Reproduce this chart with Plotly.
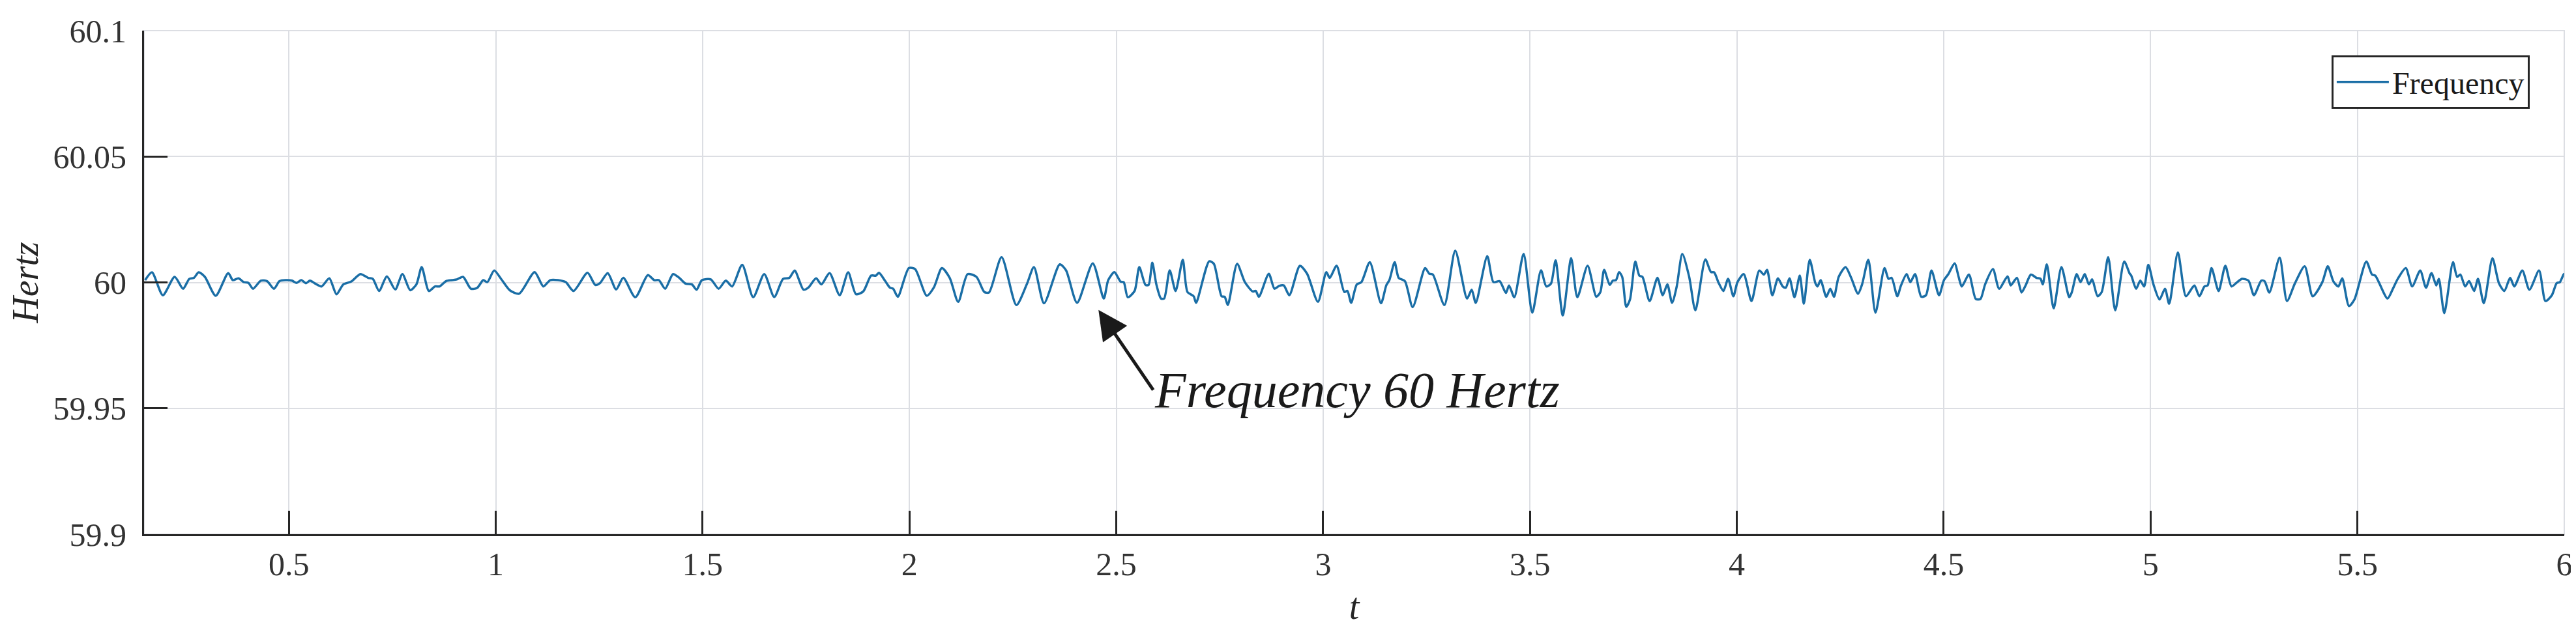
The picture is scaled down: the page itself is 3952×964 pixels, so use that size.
import plotly.graph_objects as go

# Fréquence relevée (t en s, f en Hz) — extrema, par tronçons
SEG_1 = [
    (0.1526, 60.0009), (0.1691, 60.0040), (0.1954, 59.9949), (0.2240, 60.0022), (0.2443, 59.9975),
    (0.2594, 60.0014), (0.2706, 60.0018), (0.2819, 60.0040), (0.2970, 60.0022), (0.3233, 59.9947),
    (0.3534, 60.0037), (0.3646, 60.0009), (0.3782, 60.0016), (0.3910, 60.0001), (0.4022, 59.9998),
    (0.4135, 59.9975), (0.4323, 60.0007), (0.4474, 60.0005), (0.4639, 59.9975), (0.4774, 60.0005),
    (0.4925, 60.0009), (0.5075, 60.0007), (0.5188, 59.9998), (0.5301, 60.0009), (0.5414, 59.9997),
    (0.5511, 60.0007), (0.5639, 59.9995), (0.5790, 59.9984), (0.5978, 60.0016), (0.6151, 59.9953),
    (0.6316, 59.9992), (0.6504, 60.0003), (0.6730, 60.0033), (0.6918, 60.0018), (0.7030, 60.0014),
    (0.7181, 59.9966), (0.7369, 60.0024), (0.7572, 59.9972), (0.7745, 60.0033), (0.7933, 59.9969),
    (0.8083, 59.9992), (0.8211, 60.0061), (0.8384, 59.9966), (0.8534, 59.9984), (0.8647, 59.9984),
    (0.8798, 60.0005), (0.8948, 60.0009), (0.9061, 60.0012), (0.9211, 60.0022), (0.9399, 59.9975),
    (0.9550, 59.9978), (0.9700, 60.0009), (0.9798, 60.0001), (0.9963, 60.0047), (1.0151, 60.0009),
    (1.0339, 59.9969), (1.0565, 59.9955), (1.0941, 60.0041), (1.1151, 59.9984), (1.1317, 60.0009),
    (1.1505, 60.0009), (1.1693, 60.0001), (1.1881, 59.9966), (1.2219, 60.0038), (1.2407, 59.9990),
    (1.2519, 59.9997), (1.2708, 60.0037), (1.2911, 59.9972), (1.3084, 60.0018),
]
SEG_2 = [
    (1.3374, 59.9941), (1.3678, 60.0029), (1.3830, 60.0009), (1.3944, 60.0009), (1.4096, 59.9975),
    (1.4286, 60.0033), (1.4438, 60.0018), (1.4590, 59.9995), (1.4742, 59.9992), (1.4856, 59.9971),
    (1.4985, 60.0009), (1.5198, 60.0012), (1.5388, 59.9975), (1.5562, 60.0007), (1.5714, 59.9984),
    (1.5958, 60.0070), (1.6224, 59.9941), (1.6490, 60.0033), (1.6733, 59.9942), (1.6946, 60.0014),
    (1.7098, 60.0018), (1.7227, 60.0047), (1.7439, 59.9971), (1.7554, 59.9979), (1.7744, 60.0016),
    (1.7873, 59.9992), (1.8070, 60.0037), (1.8314, 59.9949), (1.8519, 60.0040), (1.8709, 59.9953),
    (1.8884, 59.9964), (1.9074, 60.0027), (1.9188, 60.0027), (1.9264, 60.0038), (1.9416, 60.0005),
    (1.9530, 59.9979), (1.9606, 59.9975), (1.9720, 59.9943), (1.9986, 60.0057), (2.0138, 60.0053),
    (2.0419, 59.9947), (2.0594, 59.9981), (2.0784, 60.0057), (2.0974, 60.0018), (2.1179, 59.9923),
    (2.1407, 60.0033), (2.1620, 60.0022), (2.1810, 59.9962), (2.1924, 59.9960), (2.2228, 60.0100),
    (2.2585, 59.9910), (2.2836, 59.9992), (2.3010, 60.0061), (2.3254, 59.9917), (2.3634, 60.0072),
    (2.3786, 60.0048), (2.4052, 59.9919), (2.4432, 60.0076), (2.4698, 59.9936),
]
SEG_3 = [
    (2.4805, 60.0009), (2.4955, 60.0041), (2.5105, 60.0003), (2.5180, 60.0001), (2.5278, 59.9941),
    (2.5443, 59.9966), (2.5556, 60.0061), (2.5706, 59.9990), (2.5781, 59.9990), (2.5871, 60.0078),
    (2.5969, 59.9992), (2.6081, 59.9936), (2.6157, 59.9936), (2.6292, 60.0048), (2.6434, 59.9966),
    (2.6607, 60.0090), (2.6720, 59.9962), (2.6870, 59.9945), (2.6930, 59.9919), (2.7245, 60.0084),
    (2.7358, 60.0074), (2.7546, 59.9945), (2.7621, 59.9943), (2.7696, 59.9910), (2.7921, 60.0074),
    (2.8109, 60.0001), (2.8297, 59.9964), (2.8372, 59.9966), (2.8447, 59.9943), (2.8687, 60.0034),
    (2.8823, 59.9975), (2.8935, 59.9986), (2.9048, 59.9988), (2.9183, 59.9949), (2.9438, 60.0066),
    (2.9611, 60.0035), (2.9874, 59.9923), (3.0077, 60.0041), (3.0159, 60.0018), (3.0325, 60.0066),
    (3.0512, 59.9962), (3.0587, 59.9966), (3.0678, 59.9919), (3.0813, 59.9992), (3.0925, 60.0001),
    (3.1128, 60.0080), (3.1399, 59.9917), (3.1526, 59.9988), (3.1601, 60.0009), (3.1729, 60.0080),
    (3.1826, 60.0018), (3.1977, 60.0005), (3.2165, 59.9902), (3.2465, 60.0057), (3.2563, 60.0035),
    (3.2653, 60.0031), (3.2931, 59.9910), (3.3193, 60.0126), (3.3479, 59.9936), (3.3591, 59.9971),
    (3.3689, 59.9919), (3.3967, 60.0104), (3.4117, 60.0001), (3.4267, 60.0005), (3.4418, 59.9958),
    (3.4493, 59.9988), (3.4620, 59.9941), (3.4846, 60.0113), (3.5056, 59.9880), (3.5266, 60.0048),
    (3.5394, 59.9984), (3.5506, 59.9995), (3.5619, 60.0087), (3.5792, 59.9869), (3.5995, 60.0096),
    (3.6145, 59.9941), (3.6393, 60.0066),
]
SEG_4 = [
    (3.6604, 59.9943), (3.6702, 59.9962), (3.6792, 60.0050), (3.6928, 59.9990), (3.7003, 60.0007),
    (3.7078, 60.0009), (3.7154, 60.0041), (3.7229, 60.0022), (3.7327, 59.9903), (3.7417, 59.9932),
    (3.7545, 60.0083), (3.7643, 60.0027), (3.7718, 60.0022), (3.7892, 59.9926), (3.8080, 60.0018),
    (3.8208, 59.9949), (3.8321, 59.9992), (3.8434, 59.9919), (3.8547, 59.9984), (3.8682, 60.0113),
    (3.8848, 60.0022), (3.8998, 59.9889), (3.9239, 60.0091), (3.9375, 60.0041), (3.9450, 60.0040),
    (3.9563, 59.9997), (3.9676, 59.9966), (3.9789, 60.0014), (3.9917, 59.9945), (4.0015, 60.0001),
    (4.0166, 60.0033), (4.0354, 59.9926), (4.0542, 60.0047), (4.0655, 60.0031), (4.0730, 60.0050),
    (4.0858, 59.9949), (4.0994, 60.0016), (4.1107, 59.9984), (4.1182, 59.9979), (4.1273, 60.0016),
    (4.1393, 59.9941), (4.1521, 60.0027), (4.1619, 59.9915), (4.1762, 60.0090), (4.1898, 59.9997),
    (4.1950, 59.9984), (4.2026, 60.0009), (4.2161, 59.9943), (4.2259, 59.9975), (4.2349, 59.9943),
    (4.2462, 60.0022), (4.2628, 60.0061), (4.2764, 60.0018), (4.2929, 59.9955), (4.3027, 59.9992),
    (4.3178, 60.0090), (4.3351, 59.9880), (4.3569, 60.0057), (4.3667, 60.0014), (4.3742, 60.0018),
    (4.3878, 59.9945), (4.3968, 59.9988), (4.4104, 60.0033), (4.4194, 60.0001), (4.4307, 60.0033),
    (4.4458, 59.9943), (4.4571, 59.9949), (4.4706, 60.0047), (4.4887, 59.9949), (4.5007, 60.0009),
    (4.5113, 60.0033), (4.5263, 60.0076), (4.5361, 60.0022), (4.5437, 59.9984), (4.5610, 60.0031),
    (4.5776, 59.9934), (4.5888, 59.9934), (4.6001, 59.9992), (4.6190, 60.0053), (4.6340, 59.9975),
    (4.6544, 60.0024), (4.6619, 59.9988), (4.6770, 60.0018), (4.6882, 59.9960), (4.6980, 59.9988),
    (4.7108, 60.0031), (4.7244, 60.0018), (4.7342, 60.0014), (4.7394, 59.9992), (4.7492, 60.0072),
    (4.7658, 59.9897), (4.7846, 60.0061), (4.8035, 59.9941),
]
SEG_5 = [
    (4.8099, 59.9962), (4.8215, 60.0033), (4.8308, 60.0001), (4.8409, 60.0033), (4.8510, 59.9992),
    (4.8588, 60.0012), (4.8720, 59.9945), (4.8820, 59.9962), (4.8976, 60.0100), (4.9146, 59.9889),
    (4.9364, 60.0083), (4.9496, 60.0035), (4.9534, 60.0027), (4.9651, 59.9975), (4.9752, 60.0007),
    (4.9845, 59.9984), (4.9946, 60.0070), (5.0078, 59.9988), (5.0217, 59.9932), (5.0349, 59.9975),
    (5.0450, 59.9915), (5.0660, 60.0119), (5.0854, 59.9945), (5.1009, 59.9979), (5.1063, 59.9988),
    (5.1180, 59.9945), (5.1304, 59.9984), (5.1381, 59.9988), (5.1474, 60.0057), (5.1645, 59.9966),
    (5.1808, 60.0066), (5.1956, 59.9984), (5.2095, 60.0001), (5.2212, 60.0014), (5.2367, 60.0007),
    (5.2499, 59.9949), (5.2677, 60.0007), (5.2755, 60.0005), (5.2871, 59.9960), (5.3120, 60.0098),
    (5.3298, 59.9926), (5.3492, 59.9997), (5.3725, 60.0064), (5.3919, 59.9945), (5.4152, 60.0001),
    (5.4284, 60.0064), (5.4423, 60.0003), (5.4540, 59.9984), (5.4633, 60.0016), (5.4796, 59.9906),
    (5.4928, 59.9932), (5.5215, 60.0083), (5.5354, 60.0031), (5.5432, 60.0027), (5.5727, 59.9936),
    (5.5859, 59.9975), (5.5975, 60.0014), (5.6169, 60.0057), (5.6324, 59.9984), (5.6518, 60.0047),
    (5.6658, 59.9979), (5.6790, 60.0037), (5.6906, 59.9988), (5.6968, 60.0014), (5.7100, 59.9878),
    (5.7310, 60.0080), (5.7411, 60.0022), (5.7488, 60.0031), (5.7605, 59.9984), (5.7698, 60.0005),
    (5.7822, 59.9966), (5.7915, 60.0014), (5.8055, 59.9917), (5.8264, 60.0096), (5.8420, 59.9997),
    (5.8552, 59.9966), (5.8691, 60.0018), (5.8792, 59.9984), (5.8986, 60.0047), (5.9157, 59.9971),
    (5.9390, 60.0047), (5.9545, 59.9926), (5.9700, 59.9949), (5.9816, 59.9997), (5.9894, 60.0001),
    (5.9988, 60.0033), (6.0000, 60.0031),
]

X_TICKS = [0.5, 1, 1.5, 2, 2.5, 3, 3.5, 4, 4.5, 5, 5.5, 6]
X_LABELS = ["0.5", "1", "1.5", "2", "2.5", "3", "3.5", "4", "4.5", "5", "5.5", "6"]
Y_TICKS = [59.9, 59.95, 60, 60.05, 60.1]
Y_LABELS = ["59.9", "59.95", "60", "60.05", "60.1"]
X_RANGE = [0.15, 6]
Y_RANGE = [59.9, 60.1]

# point visé par la flèche
ARROW_AT = (2.457, 59.9891)

FONT = "Liberation Serif, Times New Roman, serif"
LINE_BLUE = "#1a6ea6"
AXIS = "#262626"
GRID = "#dcdee3"

points = SEG_1 + SEG_2 + SEG_3 + SEG_4 + SEG_5
t = [p[0] for p in points]
f = [p[1] for p in points]

fig = go.Figure()
fig.add_trace(go.Scatter(
    x=t, y=f, name="Frequency", mode="lines",
    line=dict(color=LINE_BLUE, width=3.5, shape="spline", smoothing=0.7),
))

axis_common = dict(
    showgrid=True, gridcolor=GRID, gridwidth=2,
    zeroline=False, showline=True, linecolor=AXIS, linewidth=3,
    ticks="inside", ticklen=36, tickwidth=3, tickcolor=AXIS,
    tickfont=dict(family=FONT, size=50, color="#333333"),
    mirror=False, automargin=False,
)

fig.update_layout(
    width=3952, height=964, autosize=False,
    margin=dict(l=213, r=26, t=39, b=152),
    paper_bgcolor="white", plot_bgcolor="white",
    font=dict(family=FONT, color=AXIS),
    xaxis=dict(
        range=X_RANGE, tickvals=X_TICKS, ticktext=X_LABELS,
        ticklabelstandoff=0,
        title=dict(text="<i>t</i>", font=dict(family=FONT, size=56, color=AXIS), standoff=18),
        **axis_common,
    ),
    yaxis=dict(
        range=Y_RANGE, tickvals=Y_TICKS, ticktext=Y_LABELS,
        ticklabelstandoff=14,
        title=dict(text="<i>Hertz</i>", font=dict(family=FONT, size=56, color=AXIS), standoff=14),
        **axis_common,
    ),
    legend=dict(
        x=0.9857, y=0.9508, xanchor="right", yanchor="top",
        bgcolor="white", bordercolor=AXIS, borderwidth=3,
        font=dict(family=FONT, size=48, color="#1a1a1a"),
        itemwidth=80,
    ),
    showlegend=True,
)

# cadre clair en haut / à droite comme la figure d'origine
fig.add_shape(type="rect", xref="paper", yref="paper", x0=0, x1=1, y0=0, y1=1,
              line=dict(color=GRID, width=2), layer="below")

fig.add_annotation(
    x=ARROW_AT[0], y=ARROW_AT[1], xref="x", yref="y",
    text="<i>Frequency 60 Hertz</i>",
    font=dict(family=FONT, size=78, color="#1a1a1a"),
    showarrow=True, arrowhead=2, arrowsize=1.8, arrowwidth=5, arrowcolor="#1a1a1a",
    ax=84, ay=123, xanchor="left", yanchor="middle",
)

fig.write_html("out.html")
